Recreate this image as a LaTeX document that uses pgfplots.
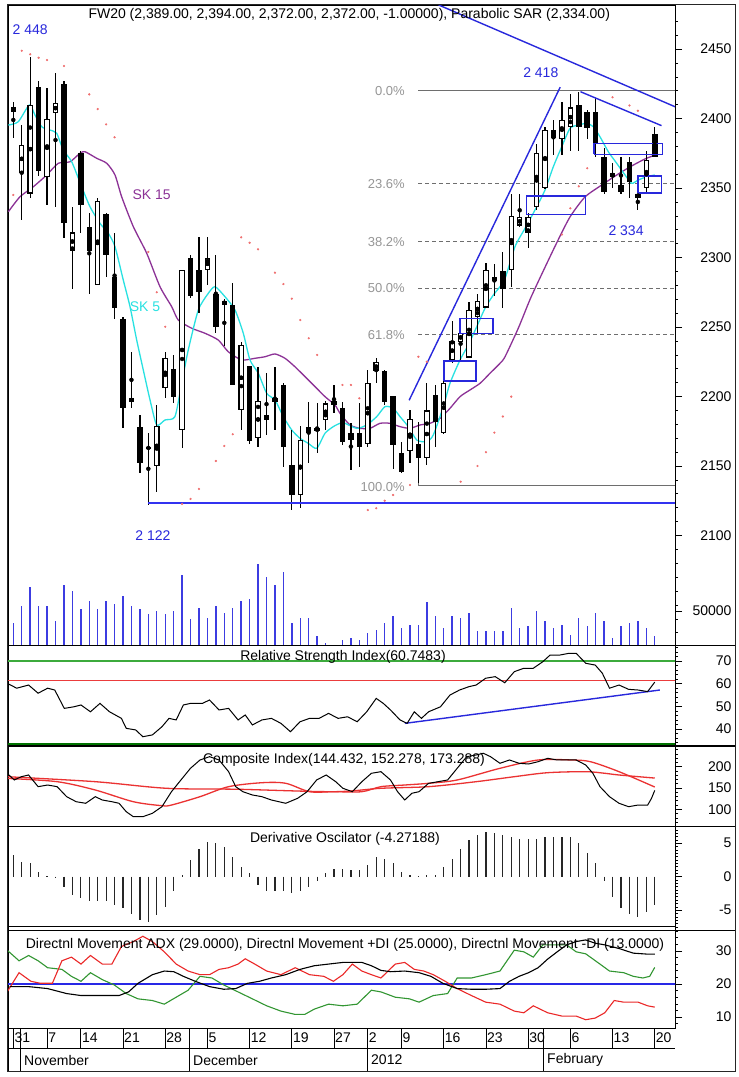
\documentclass[border=0pt]{standalone}
\usepackage{fontspec}
\setmainfont{Liberation Sans}
\usepackage{pgfplots}
\usepackage{pgfplotstable}
\pgfplotsset{compat=1.18}
\newcommand\f{\fontsize{14}{16}\selectfont}
\newcommand\fs{\fontsize{13}{15}\selectfont}
\definecolor{skcyan}{RGB}{40,225,225}
\definecolor{skpurple}{RGB}{140,50,150}
\definecolor{sar}{RGB}{240,110,110}
\definecolor{lblue}{RGB}{40,40,220}
\definecolor{supblue}{RGB}{50,50,240}
\definecolor{vblue}{RGB}{60,60,225}
\definecolor{fibgray}{RGB}{110,110,110}
\definecolor{fibtext}{RGB}{150,150,150}
\definecolor{rsigreen}{RGB}{60,170,60}
\definecolor{rsired}{RGB}{235,60,60}
\definecolor{cired}{RGB}{235,50,50}
\definecolor{dmigreen}{RGB}{50,150,50}
\definecolor{dmired}{RGB}{235,40,40}
\definecolor{dmiblue}{RGB}{40,40,230}

\pgfplotstableread{
i O H L C
1 2361 2395 2327 2381
2 2346 2444 2343 2410
4 2358 2422 2338 2400
5 2404 2433 2336 2411
7 2305 2336 2277 2318
10 2280 2343 2280 2341
17 2150 2194 2131 2179
18 2206 2232 2199 2228
20 2176 2291 2163 2291
23 2291 2315 2280 2300
27 2190 2239 2176 2237
29 2170 2221 2164 2197
34 2129 2179 2120 2169
37 2183 2197 2176 2195
42 2166 2219 2164 2210
43 2218 2228 2210 2225
47 2161 2190 2152 2184
49 2156 2210 2151 2190
51 2174 2217 2173 2210
52 2226 2254 2224 2240
53 2239 2250 2226 2246
54 2228 2268 2228 2262
55 2257 2274 2246 2269
56 2264 2296 2264 2291
59 2291 2346 2279 2330
60 2323 2346 2322 2329
61 2318 2332 2307 2329
62 2336 2382 2334 2375
63 2350 2394 2349 2392
65 2385 2412 2374 2399
66 2394 2418 2377 2408
74 2343 2346 2334 2346
75 2350 2377 2346 2370
}\upc

\pgfplotstableread{
i O H L C
0 2408 2412 2386 2405
3 2423 2427 2359 2362
6 2425 2427 2314 2325
8 2375 2377 2318 2338
9 2322 2332 2274 2305
11 2331 2332 2286 2302
12 2286 2318 2256 2264
13 2256 2257 2177 2192
14 2199 2232 2192 2196
15 2178 2187 2145 2152
16 2164 2174 2122 2162
19 2220 2230 2195 2200
21 2300 2302 2271 2272
22 2291 2315 2260 2275
24 2274 2302 2246 2250
25 2269 2270 2236 2266
26 2266 2282 2208 2208
28 2222 2222 2166 2168
30 2187 2217 2172 2183
31 2199 2221 2176 2196
32 2208 2210 2149 2164
33 2151 2176 2118 2129
35 2178 2196 2152 2174
36 2177 2195 2159 2175
38 2197 2208 2188 2194
39 2192 2196 2165 2167
40 2174 2181 2147 2169
41 2174 2195 2149 2164
44 2218 2219 2194 2196
45 2200 2200 2148 2165
46 2159 2167 2145 2146
48 2166 2182 2138 2156
50 2201 2208 2164 2182
57 2286 2295 2272 2283
58 2290 2304 2264 2277
64 2392 2399 2374 2386
67 2410 2419 2377 2394
68 2405 2406 2385 2393
69 2405 2415 2372 2382
70 2372 2379 2346 2347
71 2361 2368 2350 2358
72 2352 2372 2346 2347
73 2369 2372 2343 2354
76 2389 2394 2372 2372
}\downc

\pgfplotstableread{
i V
0 32500
1 57500
2 85000
3 57500
4 57500
5 35000
6 88500
7 80000
8 52500
9 65000
10 52500
11 65000
12 60000
13 72500
14 57500
15 52500
16 45000
17 50000
18 45000
19 50000
20 102500
21 37500
22 55000
23 40000
24 57500
25 47500
26 55000
27 65000
28 67500
29 118500
30 100000
31 87500
32 107500
33 32500
34 40000
35 40000
36 12500
37 2500
38 0
39 7500
40 10000
41 7500
42 17500
43 22500
44 32500
45 42500
46 25000
47 30000
48 30000
49 62500
50 42500
51 25000
52 42500
53 40000
54 46500
55 20000
56 20000
57 20000
58 20000
59 55000
60 25000
61 27500
62 50000
63 35000
64 25000
65 30000
66 15000
67 40000
68 27500
69 46500
70 35000
71 10000
72 27500
73 32500
74 35000
75 25000
76 12500
}\vol

\pgfplotstableread{
i v
0 3.2
1 2.2
2 2.0
3 0.7
4 0.05
5 -0.2
6 -1.5
7 -2.7
8 -3.2
9 -3.7
10 -3.7
11 -3.7
12 -4.2
13 -4.7
14 -5.5
15 -6.5
16 -6.7
17 -5.7
18 -4.5
19 -2.2
20 0.3
21 2.5
22 4.2
23 5.2
24 5.0
25 4.5
26 3.0
27 1.5
28 0.5
29 -1.2
30 -2.2
31 -2.2
32 -2.2
33 -2.5
34 -2.2
35 -1.5
36 -0.7
37 0.5
38 1.2
39 1.2
40 1.0
41 1.0
42 1.7
43 3.0
44 2.7
45 2.0
46 0.7
47 0.2
48 0.05
49 0.2
50 0.2
51 1.5
52 2.7
53 4.2
54 5.5
55 6.2
56 6.7
57 6.5
58 6.2
59 6.0
60 5.7
61 5.7
62 5.7
63 6.0
64 6.0
65 6.0
66 6.0
67 5.0
68 3.5
69 2.0
70 -0.7
71 -3.0
72 -4.7
73 -5.5
74 -6.0
75 -5.2
76 -4.27
}\dosc

\pgfplotsset{
  panel/.style={
    scale only axis, width=667pt,
    xmin=-0.628, xmax=78.4,
    axis line style={black, line width=0.8pt},
    xtick=\empty,
    ytick pos=right, yticklabel pos=right,
    tick align=outside,
    major tick length=7pt, minor tick length=3pt,
    every tick/.style={black, line width=0.6pt},
    yticklabel style={font=\f, anchor=east, xshift=53pt},
    scaled y ticks=false,
    clip=true,
  },
}

\begin{document}
\begin{tikzpicture}
\useasboundingbox (0,0) rectangle (739pt,1077pt);
\fill[white] (0,0) rectangle (739pt,1077pt);

\begin{axis}[panel, at={(8pt,432pt)}, anchor=south west, height=640pt,
  ymin=2021.2, ymax=2481.7,
  ytick={2100,2150,2200,2250,2300,2350,2400,2450},
  yticklabels={2100,2150,2200,2250,2300,2350,2400,2450},
  minor ytick={2030,2040,...,2470}]
\addplot[fibgray, line width=0.8pt] coordinates {(48,2420) (78.4,2420)};
\addplot[fibgray, line width=0.8pt] coordinates {(48,2181) (48,2136) (78.4,2136)};
\addplot[fibgray, line width=0.8pt, dash pattern=on 4pt off 3pt] coordinates {(48,2353) (78.4,2353)};
\addplot[fibgray, line width=0.8pt, dash pattern=on 4pt off 3pt] coordinates {(48,2311.5) (78.4,2311.5)};
\addplot[fibgray, line width=0.8pt, dash pattern=on 4pt off 3pt] coordinates {(48,2278) (78.4,2278)};
\addplot[fibgray, line width=0.8pt, dash pattern=on 4pt off 3pt] coordinates {(48,2244.5) (78.4,2244.5)};
\addplot[only marks, mark=*, mark size=0.9pt, sar] table {
i v
0 2345.0
1 2448.8
2 2446.2
3 2443.7
4 2442.1
6 2437.8
9 2417.4
10 2406.8
11 2395.8
12 2386.5
16 2304.0
17 2275.0
18 2250.2
20 2122.7
21 2126.3
22 2133.5
24 2153.6
25 2164.4
26 2172.8
27 2314.5
28 2310.6
29 2305.9
31 2289.1
32 2280.9
33 2270.4
34 2255.0
35 2241.9
36 2229.9
39 2208.3
40 2208.3
41 2198.7
42 2118.3
43 2119.6
44 2125.0
45 2129.1
47 2136.3
48 2228.6
49 2225.0
53 2138.7
55 2150.0
56 2159.9
57 2174.0
58 2185.6
59 2199.9
65 2316.5
66 2335.4
67 2351.2
68 2364.2
71 2415.3
73 2409.4
74 2405.6
};
\addplot[skpurple, line width=1.3pt, smooth, tension=0.4] table {
i v
-0.59 2332.9
0.79 2343.7
2.37 2350.9
3.96 2359.4
5.33 2367.8
6.72 2368.9
7.90 2375.0
8.5 2376.1
9.88 2371.4
11.07 2367.8
12.05 2359.4
12.84 2343.7
14.22 2322.2
15.81 2303.0
17.38 2279.0
18.77 2264.6
19.55 2255.0
21.14 2249.1
22.71 2245.5
24.29 2240.6
25.47 2232.2
27.06 2226.3
28.64 2227.5
29.82 2228.6
31.0 2230.6
32.19 2227.5
33.37 2221.4
34.56 2214.3
35.75 2207.1
36.93 2199.9
38.11 2193.9
38.71 2187.9
39.89 2179.5
41.08 2177.1
42.26 2177.1
43.45 2180.7
44.63 2180.7
45.82 2178.3
47.0 2177.1
48.19 2179.5
49.37 2180.7
50.56 2184.3
51.74 2191.5
52.93 2199.9
54.11 2204.7
55.3 2209.5
56.48 2216.7
57.67 2223.9
58.26 2228.6
59.83 2249.1
61.3 2270.9
62.96 2292.5
64.5 2312.0
65.96 2329.2
67.74 2343.6
69.9 2352.9
71.68 2360.1
73.27 2365.9
74.84 2370.9
76.03 2373.7
};
\addplot[skcyan, line width=1.3pt, smooth, tension=0.4] table {
i v
-0.59 2395.3
0.59 2397.7
1.90 2409.7
2.57 2402.5
3.36 2394.1
4.35 2391.7
5.14 2389.4
5.92 2377.3
6.92 2368.9
8.10 2350.9
9.09 2336.5
10.27 2324.6
11.26 2317.4
12.05 2307.8
13.03 2283.8
13.83 2264.6
14.62 2240.6
15.40 2219.1
16.20 2197.5
16.99 2179.5
17.97 2183.1
19.15 2185.5
19.95 2209.5
20.73 2233.5
21.92 2262.2
23.1 2274.2
23.9 2279.0
25.08 2271.8
26.27 2262.2
27.25 2245.5
28.04 2226.3
29.03 2216.7
30.02 2202.3
31.01 2197.5
31.99 2185.5
32.99 2175.9
33.97 2169.9
34.95 2166.3
35.95 2162.7
36.93 2173.5
37.91 2178.3
38.71 2180.7
39.30 2180.7
40.69 2177.1
41.87 2179.5
43.06 2185.5
44.04 2192.7
45.02 2191.5
45.82 2185.5
46.8 2178.3
47.8 2168.7
48.98 2167.5
49.76 2172.3
50.95 2192.7
51.74 2209.5
52.93 2226.3
53.91 2237.1
54.91 2250.2
55.89 2263.5
56.87 2273.0
58.2 2284.0
59.44 2307.8
60.63 2321.0
61.81 2334.2
63.0 2348.6
63.98 2365.3
64.98 2379.7
65.96 2392.9
66.94 2395.3
67.94 2396.5
68.72 2394.1
69.51 2386.9
70.5 2376.1
71.49 2367.8
72.48 2359.4
73.27 2353.4
74.05 2355.8
75.05 2358.1
76.0 2359.4
};
\addplot[only marks, mark=none, forget plot, error bars/.cd, y dir=both, y explicit, error mark=none,
  error bar style={draw=black, line width=1.2pt}]
  table[x=i, y expr={(\thisrow{H}+\thisrow{L})/2}, y error expr={(\thisrow{H}-\thisrow{L})/2}] {\upc};
\addplot[only marks, mark=none, forget plot, error bars/.cd, y dir=both, y explicit, error mark=none,
  error bar style={draw=black, line width=1.2pt}]
  table[x=i, y expr={(\thisrow{H}+\thisrow{L})/2}, y error expr={(\thisrow{H}-\thisrow{L})/2}] {\downc};
\addplot[only marks, mark=none, forget plot, error bars/.cd, y dir=both, y explicit, error mark=none,
  error bar style={draw=black, line width=5.5pt}]
  table[x=i, y expr={(\thisrow{O}+\thisrow{C})/2}, y error expr={max(abs(\thisrow{O}-\thisrow{C})/2,1)}] {\downc};
\addplot[only marks, mark=none, forget plot, error bars/.cd, y dir=both, y explicit, error mark=none,
  error bar style={draw=black, line width=5.5pt}]
  table[x=i, y expr={(\thisrow{O}+\thisrow{C})/2}, y error expr={max(abs(\thisrow{O}-\thisrow{C})/2,1)}] {\upc};
\addplot[only marks, mark=none, forget plot, error bars/.cd, y dir=both, y explicit, error mark=none,
  error bar style={draw=white, line width=3.3pt}]
  table[x=i, y expr={(\thisrow{O}+\thisrow{C})/2}, y error expr={max(abs(\thisrow{O}-\thisrow{C})/2-0.8,0.25)}] {\upc};
% support line at 2 122 (drawn after the candles)
\addplot[color=supblue, solid, line width=1.8pt] coordinates {(16,2123.5) (78.4,2123.5)};
\addplot[lblue, line width=1.4pt] coordinates {(46.9,2197.3) (64.8,2422.6)};
\addplot[lblue, line width=1.4pt] coordinates {(50.4,2481.7) (78.4,2408.5)};
\addplot[lblue, line width=1.4pt] coordinates {(67.2,2419.3) (76.8,2394.9)};
\addplot[lblue, line width=1.6pt] coordinates {(51,2211) (54.8,2211) (54.8,2225.4) (51,2225.4) (51,2211)};
\addplot[lblue, line width=1.6pt] coordinates {(52.9,2245.3) (56.8,2245.3) (56.8,2256.1) (52.9,2256.1) (52.9,2245.3)};
\addplot[lblue, line width=1.6pt] coordinates {(60.8,2331) (67.8,2331) (67.8,2344.2) (60.8,2344.2) (60.8,2331)};
\addplot[lblue, line width=1.6pt] coordinates {(68.8,2374.2) (76.9,2374.2) (76.9,2382.1) (68.8,2382.1) (68.8,2374.2)};
\addplot[lblue, line width=1.6pt] coordinates {(74,2346.5) (76.8,2346.5) (76.8,2358.6) (74,2358.6) (74,2346.5)};
\node[font=\fs, text=fibtext, anchor=east] at (axis cs:46.8,2420) {0.0\%};
\node[font=\fs, text=fibtext, anchor=east] at (axis cs:46.8,2353) {23.6\%};
\node[font=\fs, text=fibtext, anchor=east] at (axis cs:46.8,2311.5) {38.2\%};
\node[font=\fs, text=fibtext, anchor=east] at (axis cs:46.8,2278) {50.0\%};
\node[font=\fs, text=fibtext, anchor=east] at (axis cs:46.8,2244.5) {61.8\%};
\node[font=\fs, text=fibtext, anchor=east] at (axis cs:46.8,2135) {100.0\%};
\node[font=\f, text=lblue] at (axis cs:2,2463.7) {2 448};
\node[font=\f, text=lblue] at (axis cs:62.5,2432.7) {2 418};
\node[font=\f, text=lblue] at (axis cs:72.6,2319) {2 334};
\node[font=\f, text=lblue] at (axis cs:16.55,2099.6) {2 122};
\node[font=\f, text=skpurple] at (axis cs:16.4,2345) {SK 15};
\node[font=\f, text=skcyan] at (axis cs:15.6,2264.4) {SK 5};
\end{axis}

\begin{axis}[panel, at={(8pt,432pt)}, anchor=south west, height=640pt,
  ymin=0, ymax=940000, axis x line=none, axis y line*=right,
  ytick={50000}, yticklabels={50000}]
\addplot[ycomb, vblue, line width=1.4pt] table[x=i, y=V] {\vol};
\end{axis}

\begin{axis}[panel, at={(8pt,332pt)}, anchor=south west, height=100pt,
  ymin=32.95, ymax=77.06,
  ytick={40,50,60,70}, yticklabels={40,50,60,70},
  minor ytick={34,36,...,76}]
\addplot[rsigreen, line width=1.3pt] coordinates {(-1,70) (79,70)};
\addplot[rsired, line width=1.3pt] coordinates {(-1,61.3) (79,61.3)};
\addplot[lblue, line width=1.4pt] coordinates {(46.4,42.5) (76.6,57.2)};
\addplot[black, line width=1pt] table {
i v
-0.73 60.2
0.40 58.0
1.81 59.4
2.94 55.8
4.07 58.0
4.91 57.2
6.04 49.1
7.17 49.8
8.02 50.6
9.14 47.6
10.27 51.3
11.40 47.6
12.81 44.7
13.38 40.3
14.50 39.6
15.35 36.6
16.48 37.4
17.61 41.0
18.45 44.7
19.30 44.0
20.15 50.6
20.99 51.3
22.40 51.3
23.25 52.8
24.38 48.4
25.51 49.1
26.63 44.0
27.48 46.2
28.33 41.8
29.46 44.0
30.58 44.7
31.71 42.5
32.84 38.8
33.97 43.2
35.10 44.7
36.23 44.7
37.35 46.9
38.48 44.7
39.61 45.4
40.74 43.2
41.87 47.6
43.0 53.5
43.84 51.3
44.69 48.4
45.82 44.0
46.66 42.5
47.51 47.6
48.36 44.7
49.20 47.6
50.61 49.8
51.74 55.0
52.87 57.2
54.0 58.7
54.84 59.4
55.97 62.4
57.10 63.1
58.23 60.4
59.36 65.3
60.49 66.8
61.61 66.8
62.74 69.7
63.59 72.6
64.72 72.6
65.84 73.4
66.69 73.4
67.82 69.0
68.95 68.2
69.79 64.6
70.64 58.0
71.77 59.4
72.90 57.5
74.03 57.2
75.16 56.5
76.0 60.7
};
\end{axis}

\begin{axis}[panel, at={(8pt,251pt)}, anchor=south west, height=81pt,
  ymin=60.8, ymax=250.9,
  ytick={100,150,200}, yticklabels={100,150,200},
  minor ytick={70,80,...,240}]
\addplot[cired, line width=1.3pt, smooth] table {
i v
-0.73 176.5
9.71 164.8
18.17 149.3
26.63 147
37.92 141.3
43.56 149.3
49.20 153.1
54.84 164.8
59.36 176.5
63.31 185.9
67.82 188.3
70.08 184.5
71.77 180.5
76.0 173.3
};
\addplot[cired, line width=1.3pt, smooth] table {
i v
-0.73 172.5
5.19 164.8
9.71 145.3
14.22 117.8
17.61 108.5
18.74 110.0
22.12 129.6
25.51 153.1
29.46 162.4
32.28 161
35.10 141.3
37.92 141.3
41.30 141.3
43.56 153.1
46.38 157
49.20 161
52.59 168.8
57.66 196.2
62.18 215.7
66.13 215.7
68.38 211.7
71.77 188.3
76.0 152.3
};
\addplot[black, line width=1pt] table {
i v
-0.73 184.5
0.12 168.8
0.96 176.5
1.81 180.5
2.94 153.1
4.07 157.0
5.19 153.1
6.32 129.6
7.45 117.8
8.58 114.1
9.71 129.6
10.55 121.8
11.68 117.8
12.53 114.1
13.38 94.4
14.22 82.6
15.35 82.6
16.48 90.6
17.61 106.1
18.74 141.3
19.86 168.8
20.99 196.2
22.12 215.7
23.25 223.5
24.38 215.7
25.51 188.3
26.35 153.1
27.20 141.3
28.33 133.6
29.46 129.6
30.58 121.8
32.28 114.1
33.69 125.8
34.81 141.3
35.94 168.8
37.07 180.5
38.20 164.8
39.05 149.3
40.17 141.3
41.30 164.8
42.43 184.5
43.56 188.3
44.69 168.8
45.53 141.3
46.38 121.8
47.23 137.6
48.07 141.3
49.20 160.9
50.33 164.8
51.46 168.8
52.59 196.2
53.72 223.5
54.84 227.5
55.69 231.5
56.54 223.5
57.66 208.0
58.79 215.7
59.92 208.0
61.05 206.3
62.18 211.7
63.31 219.7
64.44 215.7
65.56 215.7
66.69 215.7
67.82 204.0
68.67 184.5
69.51 153.1
70.64 129.6
71.77 114.1
72.90 106.1
74.03 110.0
75.16 110.0
75.6 125.0
76.0 144.4
};
\end{axis}

\begin{axis}[panel, at={(8pt,147pt)}, anchor=south west, height=104pt,
  ymin=-7.96, ymax=7.57,
  ytick={-5,0,5}, yticklabels={-5,0,5},
  minor ytick={-7.5,-7,...,7.5}]
\addplot[ycomb, black!85, line width=1.2pt] table[x=i, y=v] {\dosc};
\end{axis}

\begin{axis}[panel, at={(8pt,49pt)}, anchor=south west, height=102pt,
  ymin=6.7, ymax=37.5,
  ytick={10,20,30}, yticklabels={10,20,30},
  minor ytick={8,10,...,36}]
\addplot[dmiblue, line width=1.4pt] coordinates {(-1,20) (79,20)};
\addplot[dmigreen, line width=1.1pt] table {
i v
-0.73 30.2
0.68 27.0
1.81 28.6
2.94 27.0
4.07 24.9
5.76 24.4
6.89 22.3
8.02 20.8
9.14 23.4
10.55 21.3
11.96 19.7
13.38 17.1
14.78 15.5
16.48 15.0
17.89 13.9
19.30 16.0
20.71 18.1
22.12 22.3
23.53 21.8
24.94 19.7
26.63 17.6
28.33 15.5
30.02 13.4
31.71 11.8
33.40 10.8
34.53 10.8
35.66 12.4
37.35 13.9
39.05 13.4
40.74 13.9
42.43 18.1
43.56 17.6
45.25 16.0
46.95 15.5
48.07 14.5
49.76 16.5
51.46 17.1
52.59 21.8
54.28 21.8
55.97 22.8
57.66 23.9
59.36 30.2
60.49 29.7
61.61 28.1
62.74 31.8
63.87 31.8
65.56 31.8
66.69 29.7
67.82 29.1
69.51 26.0
70.64 23.9
72.33 23.4
73.46 22.3
74.59 21.8
75.4 22.3
76.0 25.0
};
\addplot[dmired, line width=1.1pt] table {
i v
-0.73 17.6
0.68 23.4
2.09 20.8
3.22 20.2
4.63 20.2
5.76 27.0
6.89 28.1
8.02 26.0
9.14 28.6
10.55 26.0
11.68 26.0
12.81 31.3
14.22 32.8
15.35 34.4
16.48 32.8
17.89 29.7
19.30 26.0
20.71 23.9
22.12 22.8
23.25 22.8
24.38 24.4
25.51 24.9
26.63 26.0
27.48 27.6
28.61 26.0
30.02 23.9
31.71 22.8
33.40 24.9
35.10 22.8
36.79 22.3
37.92 20.8
39.05 22.8
40.17 26.0
41.30 23.9
42.43 22.8
43.56 21.8
45.25 26.0
46.38 26.5
47.51 24.4
48.64 23.9
49.76 22.8
51.18 20.8
52.59 18.6
54.28 16.5
55.97 14.5
57.66 13.9
59.36 11.8
60.49 11.3
61.61 13.4
63.31 11.3
65.0 10.3
66.69 10.3
67.82 9.2
68.95 9.7
70.08 11.3
71.2 15.0
72.33 14.5
74.03 14.5
75.16 13.4
76.0 13.0
};
\addplot[black, line width=1.1pt] table {
i v
-0.45 19.2
1.81 19.2
4.07 18.6
6.32 17.1
8.02 16.5
10.27 16.5
12.53 16.5
13.66 17.6
14.78 20.2
16.48 22.8
17.89 23.9
19.02 23.7
20.15 22.3
21.56 20.8
23.25 19.2
24.94 18.4
26.35 18.6
27.76 20.2
29.17 20.8
30.58 21.8
32.28 22.8
33.97 24.4
35.66 25.5
37.35 26.0
39.05 26.5
41.30 26.5
42.43 25.5
43.56 24.1
44.69 23.7
46.38 23.9
48.07 23.4
49.48 22.3
50.89 20.2
52.59 18.6
54.28 18.4
55.97 18.4
57.66 18.6
58.79 20.8
59.92 22.3
61.05 23.4
62.18 24.9
63.31 27.5
64.44 29.7
65.56 31.8
66.69 32.8
67.82 33.3
68.95 32.3
70.08 31.8
71.77 30.7
73.46 29.3
75.16 29.0
76.0 29.0
};
\end{axis}

% date strip (positions in pt: x = 13.3 + 8.44*i)
\draw[black, line width=0.8pt] (8pt,29pt) -- (675pt,29pt);
\draw[black, line width=0.8pt] (8pt,6pt) -- (8pt,49pt);
\foreach \tk/\lb in {0/31,4/7,8/14,13/21,18/28,23/5,28/12,33/19,38/27,42/2,46/9,51/16,56/23,61/30,66/6,71/13,76/20}{
  \draw[black, line width=0.8pt] ({(13.3+8.44*\tk)*1pt},29pt) -- ({(13.3+8.44*\tk)*1pt},49pt);
  \node[font=\f, anchor=west, inner sep=1pt] at ({(13.3+8.44*\tk)*1pt},39pt) {\lb};
}
\foreach \mk in {0.9,20.9,42,62.8}{
  \draw[black, line width=0.8pt] ({(13.3+8.44*\mk)*1pt},6pt) -- ({(13.3+8.44*\mk)*1pt},49pt);
}
\node[font=\f, anchor=west, inner sep=1pt] at (23pt,17pt) {November};
\node[font=\f, anchor=west, inner sep=1pt] at (192pt,17pt) {December};
\node[font=\f, anchor=west, inner sep=1pt] at (370pt,17pt) {2012};
\node[font=\f, anchor=west, inner sep=1pt] at (546pt,17pt) {February};

% panel separators across the label column, frame
\draw[black, line width=0.9pt] (8pt,432pt) -- (735pt,432pt);
\draw[black!55!green, line width=1.5pt] (8pt,333pt) -- (675pt,333pt);
\draw[black, line width=1.2pt] (8pt,331pt) -- (735pt,331pt);
\draw[black, line width=0.9pt] (8pt,251pt) -- (735pt,251pt);
\draw[black, line width=0.9pt] (8pt,147pt) -- (735pt,147pt);
\draw[black!85, line width=1pt] (7pt,5.5pt) rectangle (735pt,1072pt);

\node[font=\f, anchor=west] at (85pt,1062pt) {FW20 (2,389.00, 2,394.00, 2,372.00, 2,372.00, -1.00000), Parabolic SAR (2,334.00)};
\node[font=\f] at (343pt,420pt) {Relative Strength Index(60.7483)};
\node[font=\f] at (344pt,317pt) {Composite Index(144.432, 152.278, 173.288)};
\node[font=\f] at (345pt,238pt) {Derivative Oscilator (-4.27188)};
\node[font=\f] at (345pt,132pt) {Directnl Movement ADX (29.0000), Directnl Movement +DI (25.0000), Directnl Movement -DI (13.0000)};
\end{tikzpicture}
\end{document}
